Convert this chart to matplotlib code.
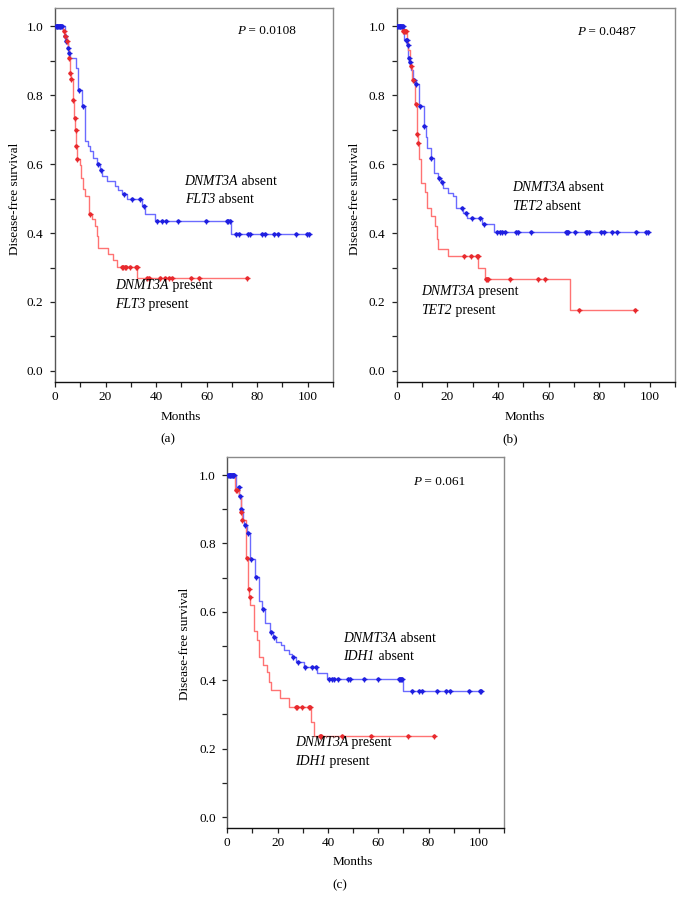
import numpy as np
import matplotlib
matplotlib.use("Agg")
import matplotlib.pyplot as plt
from matplotlib.offsetbox import TextArea, HPacker, AnnotationBbox

plt.rcParams['font.family'] = ['Liberation Serif', 'DejaVu Serif']

# ---------------- Data (Kaplan-Meier step curves) ----------------
# Panel (a): DNMT3A / FLT3
a_abs_t = [0, 3.8, 4.3, 5.0, 5.4, 6.0, 8.2, 9.0, 10.6, 12.0, 13.2, 13.9, 15.2, 16.8, 17.9, 18.5,
           20.5, 23.8, 25.0, 26.4, 28.4, 34.6, 35.7, 39.4, 69.8]
a_abs_s = [1.0, 0.971, 0.957, 0.937, 0.923, 0.908, 0.879, 0.816, 0.768, 0.667, 0.652, 0.638, 0.618,
           0.600, 0.582, 0.565, 0.551, 0.536, 0.526, 0.512, 0.498, 0.478, 0.454, 0.435, 0.398]
a_abs_c = [0.3, 0.6, 0.9, 1.2, 1.5, 1.8, 2.1, 2.4, 2.7, 4.1, 4.5, 5.2, 5.6, 9.4, 11.1, 17.2, 18.1, 27.3,
           30.4, 33.7, 35.2, 40.3, 42.3, 43.9, 48.6, 59.7, 67.9, 68.6, 69.4, 71.5, 72.9, 76.4, 77.3,
           81.9, 83.2, 86.8, 88.2, 95.4, 99.7, 100.4]
a_pre_t = [0, 3.0, 3.8, 4.6, 5.0, 5.4, 5.8, 6.4, 7.2, 7.7, 8.1, 8.4, 8.8, 9.9, 10.2, 11.0, 11.9,
           13.5, 14.6, 15.9, 16.5, 16.9, 21.1, 22.9, 24.7, 32.6]
a_pre_s = [1.0, 0.987, 0.971, 0.957, 0.935, 0.908, 0.865, 0.847, 0.785, 0.734, 0.700, 0.652, 0.615,
           0.597, 0.560, 0.527, 0.507, 0.454, 0.440, 0.420, 0.391, 0.357, 0.338, 0.321, 0.301, 0.270]
a_pre_c = [3.4, 4.1, 4.8, 5.5, 5.9, 6.5, 7.3, 7.8, 8.2, 8.5, 8.9, 14.0, 26.4, 27.0, 27.6, 28.2, 29.7,
           32.2, 32.4, 36.6, 37.0, 41.6, 43.6, 45.0, 46.3, 54.0, 56.8, 76.0]

# Panel (b): DNMT3A / TET2
b_abs_t = [0, 2.8, 4.2, 4.5, 5.0, 5.6, 6.6, 7.6, 9.0, 10.6, 11.5, 12.0, 13.4, 14.7, 16.4, 17.6,
           18.3, 20.1, 22.3, 23.5, 26.4, 27.9, 33.8, 38.3]
b_abs_s = [1.0, 0.961, 0.945, 0.908, 0.897, 0.874, 0.845, 0.833, 0.768, 0.710, 0.680, 0.647, 0.618,
           0.575, 0.560, 0.548, 0.531, 0.517, 0.507, 0.473, 0.459, 0.444, 0.425, 0.403]
b_abs_c = [0.3, 0.6, 0.9, 1.2, 1.5, 1.8, 2.1, 2.4, 3.6, 4.0, 4.3, 4.7, 5.2, 6.8, 7.8, 9.2, 10.9, 13.6,
           16.6, 17.8, 25.7, 27.2, 29.9, 33.1, 34.7, 39.7, 40.8, 41.6, 42.9, 47.0, 47.8, 53.2, 66.8,
           67.3, 67.9, 70.4, 74.7, 75.3, 76.2, 80.9, 82.1, 85.2, 87.0, 94.4, 98.7, 99.4]
b_pre_t = [0, 2.2, 4.0, 4.6, 5.2, 6.0, 7.1, 8.1, 8.4, 8.7, 9.7, 11.0, 12.0, 13.6, 15.3, 15.9, 16.5,
           20.1, 32.3, 34.8, 68.4]
b_pre_s = [1.0, 0.985, 0.955, 0.930, 0.884, 0.845, 0.773, 0.686, 0.662, 0.614, 0.546, 0.519, 0.473,
           0.449, 0.420, 0.382, 0.355, 0.333, 0.300, 0.266, 0.176]
b_pre_c = [2.6, 3.0, 3.4, 3.8, 5.5, 6.3, 7.5, 8.2, 8.5, 26.6, 29.2, 31.8, 32.1, 35.4, 35.8, 36.2,
           44.8, 55.8, 58.7, 72.1, 94.2]

# Panel (c): DNMT3A / IDH1
c_abs_t = [0, 3.3, 4.8, 5.3, 6.2, 6.7, 8.0, 9.2, 11.1, 12.8, 13.8, 15.0, 17.0, 18.1, 19.2, 21.2,
           22.5, 24.5, 25.8, 27.2, 30.5, 35.8, 39.7, 69.8]
c_abs_s = [1.0, 0.965, 0.939, 0.902, 0.869, 0.854, 0.830, 0.755, 0.701, 0.633, 0.609, 0.567, 0.541,
           0.527, 0.512, 0.502, 0.488, 0.478, 0.468, 0.454, 0.440, 0.420, 0.405, 0.370]
c_abs_c = [0.3, 0.6, 0.9, 1.2, 1.5, 1.8, 2.1, 2.4, 2.7, 4.5, 4.9, 5.6, 6.9, 8.2, 9.6, 11.5, 14.0,
           17.4, 18.5, 26.2, 28.3, 30.8, 33.8, 35.3, 40.5, 41.5, 42.3, 44.0, 48.1, 48.7, 54.3, 59.9,
           68.2, 68.6, 69.1, 69.5, 73.4, 76.3, 77.6, 83.4, 86.9, 88.5, 96.0, 100.4, 101.0]
c_pre_t = [0, 3.0, 4.6, 5.3, 5.8, 7.4, 8.4, 8.8, 9.2, 10.6, 11.9, 12.6, 14.3, 15.9, 16.6, 17.2,
           20.9, 24.5, 33.1, 34.4]
c_pre_s = [1.0, 0.956, 0.935, 0.893, 0.869, 0.757, 0.667, 0.643, 0.619, 0.543, 0.519, 0.468, 0.444,
           0.424, 0.395, 0.371, 0.347, 0.321, 0.279, 0.238]
c_pre_c = [3.3, 4.0, 5.5, 6.0, 7.7, 8.6, 8.9, 27.2, 27.8, 29.8, 32.5, 32.8, 36.8, 37.4, 45.7, 57.0,
           71.8, 82.1]

genes = ["FLT3", "TET2", "IDH1"]
p_values = ["0.0108", "0.0487", "0.061"]
panel_tags = ["(a)", "(b)", "(c)"]
x_ticks = [0, 20, 40, 60, 80, 100]
y_ticks = [0.0, 0.2, 0.4, 0.6, 0.8, 1.0]

# ---------------- Layout ----------------
W, H = 684, 911
fig = plt.figure(figsize=(W / 100, H / 100), dpi=100)

boxes = [(55, 8.3, 333, 382.3), (396.7, 8.3, 675, 382.3), (227.3, 457.3, 504, 828.3)]
text_pos = [
    dict(ann_abs=(51.3, 0.523), ann_pre=(23.8, 0.220), p=(72.0, 0.985), ylab=(15, 199), xlab=(181, 417), tag=(168, 439)),
    dict(ann_abs=(45.5, 0.504), ann_pre=(9.7, 0.203), p=(71.2, 0.984), ylab=(355, 199), xlab=(525, 417), tag=(510, 439)),
    dict(ann_abs=(46.1, 0.496), ann_pre=(26.8, 0.190), p=(73.8, 0.980), ylab=(185, 644), xlab=(353, 862), tag=(340, 885)),
]

data = [
    (a_abs_t, a_abs_s, a_abs_c, a_pre_t, a_pre_s, a_pre_c),
    (b_abs_t, b_abs_s, b_abs_c, b_pre_t, b_pre_s, b_pre_c),
    (c_abs_t, c_abs_s, c_abs_c, c_pre_t, c_pre_s, c_pre_c),
]

BLUE_LINE = '#6b6bff'
BLUE_MARK = '#1f1fe0'
RED_LINE = '#ff7373'
RED_MARK = '#e82a2e'
FS = 9.5
FS_ANN = 9.9


def km_plot(ax, t, s, c, lc, mc):
    t = np.asarray(t, float)
    s = np.asarray(s, float)
    c = np.asarray(c, float)
    end = max(t[-1], c.max())
    tt = np.append(t, end)
    ss = np.append(s, s[-1])
    ax.step(tt, ss, where='post', color=lc, lw=1.0, zorder=2)
    idx = np.searchsorted(t, c, side='right') - 1
    cs = s[idx]
    ax.plot(c, cs, linestyle='none', marker='o', ms=2.0, color=mc, mec=mc, zorder=3)
    ax.plot(c, cs, linestyle='none', marker='+', ms=3.6, mew=0.9, color=mc, zorder=3)


def mixed_label(ax, x, y, parts, fs):
    boxes_ = [TextArea(txt, textprops=dict(fontsize=fs, style=('italic' if it else 'normal'),
                                           family=['Liberation Serif', 'DejaVu Serif']))
              for txt, it in parts]
    pack = HPacker(children=boxes_, align='baseline', pad=0, sep=0)
    ab = AnnotationBbox(pack, (x, y), xycoords='data', box_alignment=(0, 0.5), frameon=False, pad=0)
    ax.add_artist(ab)


for i, (box, d, tp) in enumerate(zip(boxes, data, text_pos)):
    l, tp_, r, b = box
    ax = fig.add_axes([l / W, 1 - b / H, (r - l) / W, (b - tp_) / H])
    km_plot(ax, d[0], d[1], d[2], BLUE_LINE, BLUE_MARK)
    km_plot(ax, d[3], d[4], d[5], RED_LINE, RED_MARK)
    ax.set_xlim(0, 110)
    ax.set_ylim(-0.033, 1.052)
    ax.set_xticks(x_ticks)
    ax.set_xticks(np.arange(10, 111, 20), minor=True)
    ax.set_yticks(y_ticks)
    ax.set_yticks(np.arange(0.1, 1.0, 0.2), minor=True)
    ax.set_yticklabels([f"{v:.1f}" for v in y_ticks])
    ax.tick_params(axis='both', which='both', direction='out', length=3.3, width=0.9,
                   labelsize=FS, color='#222222')
    ax.tick_params(axis='y', which='major', pad=5)
    ax.tick_params(axis='x', which='major', pad=3)
    for side in ['top', 'right']:
        ax.spines[side].set_color('#8a8a8a')
        ax.spines[side].set_linewidth(1.0)
    ax.spines['left'].set_color('#555555')
    ax.spines['left'].set_linewidth(1.0)
    ax.spines['bottom'].set_color('#111111')
    ax.spines['bottom'].set_linewidth(1.0)

    g = genes[i]
    dy = 0.027
    mixed_label(ax, tp['ann_abs'][0], tp['ann_abs'][1] + dy, [("DNMT3A", True), (" absent", False)], FS_ANN)
    mixed_label(ax, tp['ann_abs'][0], tp['ann_abs'][1] - dy, [(g, True), (" absent", False)], FS_ANN)
    mixed_label(ax, tp['ann_pre'][0], tp['ann_pre'][1] + dy, [("DNMT3A", True), (" present", False)], FS_ANN)
    mixed_label(ax, tp['ann_pre'][0], tp['ann_pre'][1] - dy, [(g, True), (" present", False)], FS_ANN)
    mixed_label(ax, tp['p'][0], tp['p'][1], [("P", True), (" = " + p_values[i], False)], FS)

    fig.text(tp['ylab'][0] / W, 1 - tp['ylab'][1] / H, "Disease-free survival", rotation=90,
             fontsize=FS, ha='center', va='center')
    fig.text(tp['xlab'][0] / W, 1 - tp['xlab'][1] / H, "Months", fontsize=FS, ha='center', va='center')
    fig.text(tp['tag'][0] / W, 1 - tp['tag'][1] / H, panel_tags[i], fontsize=FS, ha='center', va='center')

fig.savefig("out.png", dpi=100)
